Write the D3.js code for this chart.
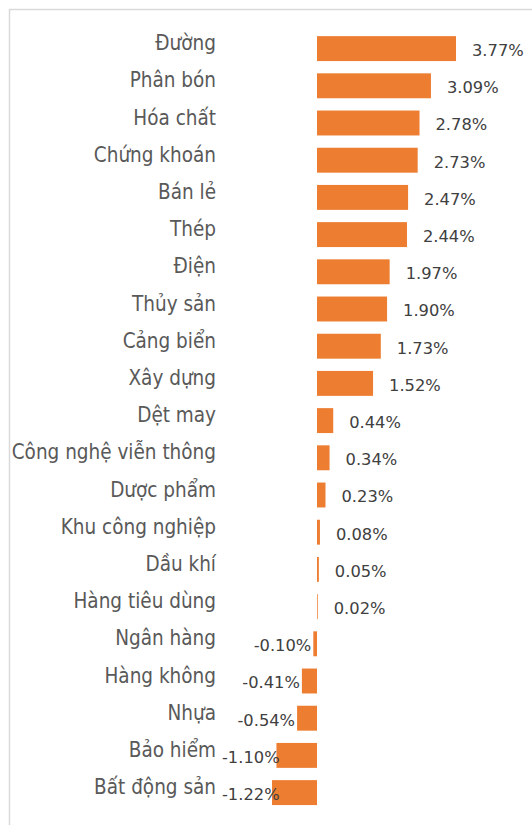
<!DOCTYPE html>
<html lang="vi">
<head>
<meta charset="utf-8">
<title>Biến động ngành</title>
<script src="https://cdn.jsdelivr.net/npm/d3@7/dist/d3.min.js"></script>
<style>
  html, body { margin: 0; padding: 0; background: #fff; }
  svg { display: block; }
  .cat { font-family: 'DejaVu Sans Condensed', 'DejaVu Sans', sans-serif; font-stretch: condensed; font-size: 20.5px; fill: #595959; }
  .val { font-family: 'DejaVu Sans', sans-serif; font-size: 16.3px; fill: #404040; }
  .bar { fill: #ED7D31; }
</style>
</head>
<body>
<svg id="chart" width="532" height="825"></svg>
<script>
// nganh (sectors) and % change
const sectors = ['Đường', 'Phân bón', 'Hóa chất', 'Chứng khoán', 'Bán lẻ', 'Thép', 'Điện',
  'Thủy sản', 'Cảng biển', 'Xây dựng', 'Dệt may', 'Công nghệ viễn thông', 'Dược phẩm',
  'Khu công nghiệp', 'Dầu khí', 'Hàng tiêu dùng', 'Ngân hàng', 'Hàng không', 'Nhựa',
  'Bảo hiểm', 'Bất động sản'];
const changes = [3.77, 3.09, 2.78, 2.73, 2.47, 2.44, 1.97, 1.90, 1.73, 1.52, 0.44, 0.34,
  0.23, 0.08, 0.05, 0.02, -0.10, -0.41, -0.54, -1.10, -1.22];

const data = sectors.map((s, i) => ({ name: s, value: changes[i] }));

const svg = d3.select('#chart');

// light frame of the chart area (runs off the right / bottom edge)
svg.append('rect')
  .attr('x', 9.5).attr('y', 9.5)
  .attr('width', 600).attr('height', 900)
  .attr('fill', 'none')
  .attr('stroke', '#d9d9d9')
  .attr('stroke-width', 1.5);

const x = d3.scaleLinear()
  .domain([-1.5, 4])
  .range([261.7, 464.5]);

const y = d3.scaleBand()
  .domain(sectors)
  .range([30, 811.2])
  .paddingInner(0.33)
  .paddingOuter(0.165);

const labelRight = 216;

const rows = svg.append('g').selectAll('g')
  .data(data)
  .join('g');

rows.append('rect')
  .attr('class', 'bar')
  .attr('x', d => x(Math.min(0, d.value)))
  .attr('y', d => y(d.name))
  .attr('width', d => Math.abs(x(d.value) - x(0)))
  .attr('height', y.bandwidth());

// category labels, right aligned
rows.append('text')
  .attr('class', 'cat')
  .attr('x', labelRight)
  .attr('y', d => y(d.name) + y.bandwidth() / 2 + 1.5)
  .attr('text-anchor', 'end')
  .text(d => d.name);

// value labels
rows.append('text')
  .attr('class', 'val')
  .attr('y', d => y(d.name) + y.bandwidth() / 2 + 7.3)
  .attr('text-anchor', d => d.value >= 0 ? 'start' : 'end')
  .text(d => d.value.toFixed(2) + '%')
  .attr('x', function (d) {
    if (d.value >= 0) return x(d.value) + 16;
    // negative: left of the bar, but keep clear of the category label
    const w = this.getComputedTextLength();
    return Math.max(x(d.value) - 2, labelRight + 6 + w);
  });
</script>
</body>
</html>
